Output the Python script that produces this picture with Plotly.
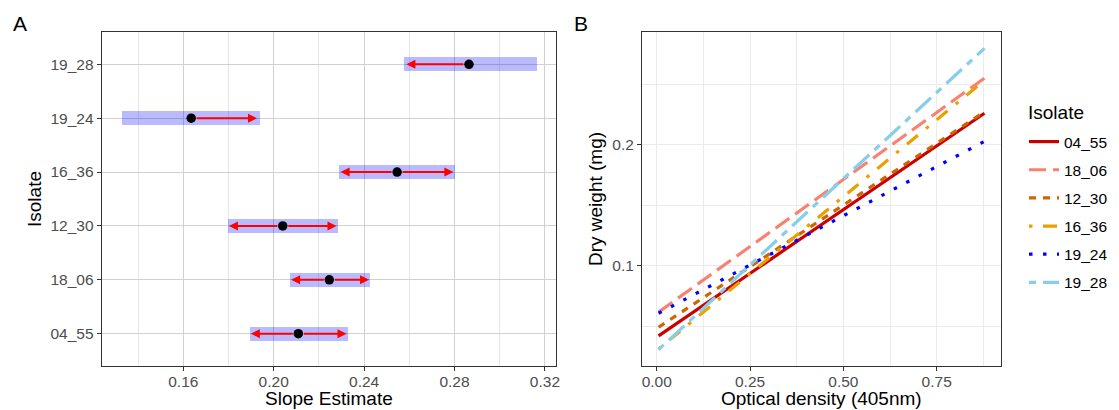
import plotly.graph_objects as go

# ---------------- data ----------------
isolates = ["04_55", "18_06", "12_30", "16_36", "19_24", "19_28"]
slope_est = [0.2109, 0.2246, 0.2040, 0.2546, 0.1635, 0.2864]
ci_low = [0.1892, 0.2072, 0.1795, 0.2289, 0.1329, 0.2576]
ci_high = [0.2329, 0.2426, 0.2285, 0.2802, 0.1938, 0.3164]
arrow_left = [0.1899, 0.2077, 0.1802, 0.2296, None, 0.2587]
arrow_right = [0.2322, 0.2422, 0.2278, 0.2795, 0.1926, None]

slope_ticks = [0.16, 0.20, 0.24, 0.28, 0.32]
slope_ticktext = ["0.16", "0.20", "0.24", "0.28", "0.32"]

od = [0.005, 0.878]
dry_weight = {
    "04_55": [0.0418, 0.2263],
    "18_06": [0.0615, 0.2553],
    "12_30": [0.0490, 0.2275],
    "16_36": [0.0310, 0.2535],
    "19_24": [0.0606, 0.2030],
    "19_28": [0.0305, 0.2801],
}
od_ticks = [0.0, 0.25, 0.5, 0.75]
od_ticktext = ["0.00", "0.25", "0.50", "0.75"]
dw_ticks = [0.1, 0.2]
dw_ticktext = ["0.1", "0.2"]

line_colors = ["#CD0000", "#FA8072", "#CD6600", "#E9A000", "#0000FF", "#87CEEB"]
line_dashes = ["solid", "17px,7px", "7px,7px", "3.5px,10.5px,14px,10.5px",
               "3.5px,10.5px", "7px,7px,21px,7px"]

# ---------------- figure ----------------
W, H = 1119, 410
FONT = "Liberation Sans, Arial, Helvetica, sans-serif"
fig = go.Figure()

rows = list(range(len(isolates)))

fig.add_trace(go.Bar(
    orientation="h", y=rows, base=ci_low,
    x=[h - l for l, h in zip(ci_low, ci_high)],
    width=0.26, marker=dict(color="rgba(0,0,255,0.27)", line=dict(width=0)),
    showlegend=False, hoverinfo="skip", xaxis="x", yaxis="y"))

fig.add_trace(go.Scatter(
    x=slope_est, y=rows, mode="markers",
    marker=dict(color="black", size=9.5),
    showlegend=False, xaxis="x", yaxis="y"))

annotations = []
for i, est in enumerate(slope_est):
    for tip in (arrow_left[i], arrow_right[i]):
        if tip is None:
            continue
        annotations.append(dict(
            x=tip, y=i, ax=est, ay=i, xref="x", yref="y", axref="x", ayref="y",
            text="", showarrow=True, arrowhead=2, arrowsize=0.9, arrowwidth=2,
            arrowcolor="#FF0000", startstandoff=4))

for k, iso in enumerate(isolates):
    fig.add_trace(go.Scatter(
        x=od, y=dry_weight[iso], mode="lines", name=iso,
        legendgroup=iso,
        line=dict(color=line_colors[k], dash=line_dashes[k], width=3.2),
        xaxis="x2", yaxis="y2"))

axis_common = dict(
    showline=True, linecolor="#333333", linewidth=1.1, mirror=True,
    ticks="outside", ticklen=4, tickcolor="#333333", tickwidth=1,
    tickfont=dict(size=15.5, color="#4d4d4d", family=FONT),
    zeroline=False, automargin=False,
)

ydom = [44 / H, 378 / H]

fig.update_layout(
    width=W, height=H,
    margin=dict(l=0, r=0, t=0, b=0),
    paper_bgcolor="white", plot_bgcolor="white",
    font=dict(family=FONT),
    xaxis=dict(domain=[101.7 / W, 556 / W], range=[0.1239, 0.3249],
               tickvals=slope_ticks, ticktext=slope_ticktext,
               showgrid=True, gridcolor="#d0d0d0", gridwidth=1.3,
               minor=dict(tickvals=[0.14, 0.18, 0.22, 0.26, 0.30], showgrid=True,
                          gridcolor="#e6e6e6", gridwidth=0.7, ticks=""),
               anchor="y", ticklabelstandoff=-3, **axis_common),
    yaxis=dict(domain=ydom, range=[-0.6, 5.6],
               tickvals=rows, ticktext=isolates,
               showgrid=True, gridcolor="#d0d0d0", gridwidth=1.3,
               anchor="x", **axis_common),
    xaxis2=dict(domain=[642 / W, 1000.7 / W], range=[-0.0394, 0.9215],
                tickvals=od_ticks, ticktext=od_ticktext,
                showgrid=True, gridcolor="#ebebeb", gridwidth=1.2,
                minor=dict(tickvals=[0.125, 0.375, 0.625, 0.875], showgrid=True,
                           gridcolor="#ebebeb", gridwidth=0.6, ticks=""),
                anchor="y2", ticklabelstandoff=-3, **axis_common),
    yaxis2=dict(domain=ydom, range=[0.0169, 0.2936],
                tickvals=dw_ticks, ticktext=dw_ticktext,
                showgrid=True, gridcolor="#ebebeb", gridwidth=1.2,
                minor=dict(tickvals=[0.05, 0.15, 0.25], showgrid=True,
                           gridcolor="#ebebeb", gridwidth=0.6, ticks=""),
                anchor="x2", **axis_common),
    legend=dict(
        font=dict(size=15.5, color="black", family=FONT),
        x=1024 / W, xanchor="left", y=1 - 125 / H, yanchor="top",
        tracegroupgap=5, bgcolor="rgba(0,0,0,0)", itemwidth=30,
    ),
    bargap=0,
    showlegend=True,
)

# panel tags, axis titles and legend title
title_font = dict(size=19, color="black", family=FONT)
annotations += [
    dict(text="A", x=20 / W, y=1 - 23 / H, xref="paper", yref="paper",
         showarrow=False, font=dict(size=21, color="black", family=FONT),
         xanchor="center", yanchor="middle"),
    dict(text="B", x=581 / W, y=1 - 23 / H, xref="paper", yref="paper",
         showarrow=False, font=dict(size=21, color="black", family=FONT),
         xanchor="center", yanchor="middle"),
    dict(text="Slope Estimate", x=(101.7 + 556) / 2 / W, y=1 - 398 / H,
         xref="paper", yref="paper", showarrow=False, font=title_font,
         xanchor="center", yanchor="middle"),
    dict(text="Optical density (405nm)", x=(642 + 1000.7) / 2 / W, y=1 - 398 / H,
         xref="paper", yref="paper", showarrow=False, font=title_font,
         xanchor="center", yanchor="middle"),
    dict(text="Isolate", x=34 / W, y=1 - 199 / H, xref="paper", yref="paper",
         showarrow=False, font=title_font, textangle=-90,
         xanchor="center", yanchor="middle"),
    dict(text="Dry weight (mg)", x=595 / W, y=1 - 199 / H, xref="paper", yref="paper",
         showarrow=False, font=title_font, textangle=-90,
         xanchor="center", yanchor="middle"),
    dict(text="Isolate", x=1026 / W, y=1 - 112 / H, xref="paper", yref="paper",
         showarrow=False, font=title_font, xanchor="left", yanchor="middle"),
]
fig.update_layout(annotations=annotations)

fig.write_html("out.html")
